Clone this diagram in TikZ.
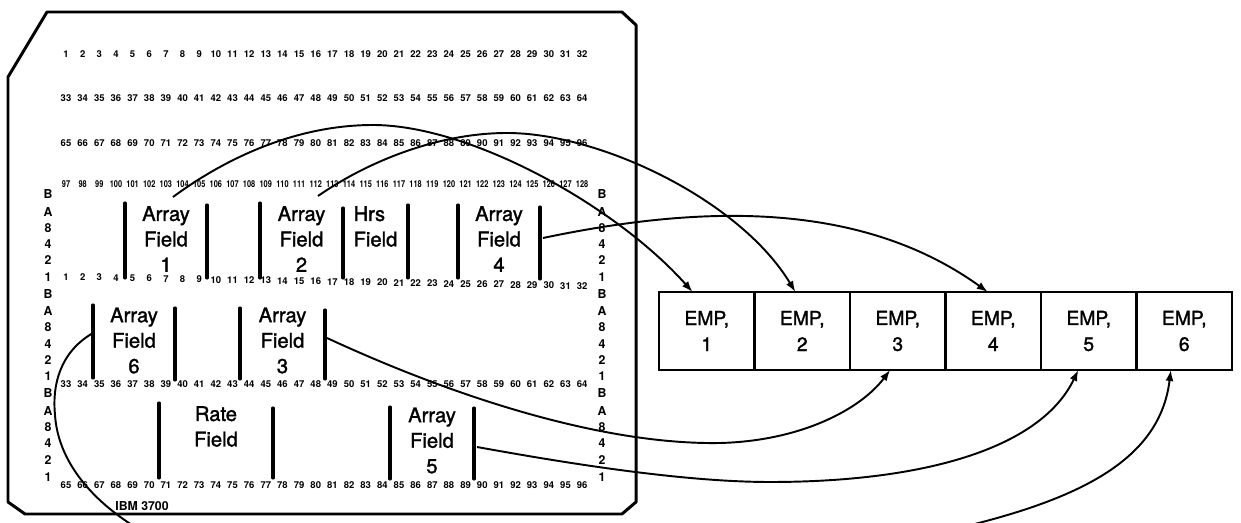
\documentclass[tikz,border=0pt]{standalone}
\usepackage{fontspec}
\setmainfont{TeX Gyre Heros}
\newfontfamily\heavy[FakeBold=1.5]{TeX Gyre Heros}
\usetikzlibrary{arrows.meta}
\begin{document}
\begin{tikzpicture}[x=0.02cm,y=-0.02cm,
  num/.style={font=\fontsize{5.4}{6}\selectfont\bfseries, inner sep=0pt},
  ltr/.style={font=\fontsize{7}{8}\selectfont\bfseries, inner sep=0pt},
  lbl/.style={font=\heavy\fontsize{11.5}{14.5}\selectfont, align=center, inner sep=0pt},
  bar/.style={line width=1.8pt, line cap=round},
  card/.style={line width=1.7pt, line join=round},
  emp/.style={draw, line width=1.3pt, minimum width=1.91cm, minimum height=1.56cm,
              inner sep=0pt, outer sep=0pt, font=\heavy\fontsize{11}{14.8}\selectfont, align=center},
  link/.style={line width=1.1pt, -{Latex[length=2.2mm,width=1.6mm]}}
]
\useasboundingbox (0,0) rectangle (1241,523);
\clip (0,0) rectangle (1241,523);

% card outline
\draw[card] (47,12) -- (622,12) -- (636,25) -- (636,502) -- (622,514)
  -- (25,514) -- (8,502) -- (8,77) -- cycle;

% column numbers
\foreach \i in {1,...,32} {
  \pgfmathsetmacro\xx{66+(\i-1)*16.65}
  \pgfmathtruncatemacro\nb{32+\i}
  \pgfmathtruncatemacro\nc{64+\i}
  \pgfmathtruncatemacro\nd{96+\i}
  \pgfmathsetmacro\yy{277+9*(\i-1)/31}
  \node[num] (ra\i) at (\xx,54) {\i};
  \node[num] (rb\i) at (\xx,98) {\nb};
  \node[num] (rc\i) at (\xx,143) {\nc};
  \node[num] (rd\i) at (\xx,184) {\scalebox{0.78}[1]{\nd}};
  \node[num] (re\i) at (\xx,\yy) {\i};
  \node[num] (rf\i) at (\xx,384) {\nb};
  \node[num] (rg\i) at (\xx,485) {\nc};
}

% zone letters
\foreach \t/\y [count=\k] in {B/194,A/212,8/228,4/244,2/260,1/277,
                              B/294,A/311,8/327,4/344,2/360,1/376,
                              B/393,A/411,8/427,4/443,2/460,1/477} {
  \node[ltr] (lL\k) at (48,\y) {\t};
  \node[ltr] (lR\k) at (602,\y) {\t};
}

% field bars
\draw[bar] (125,203) -- (125,278);
\draw[bar] (207,205) -- (207,278);
\draw[bar] (260,203) -- (260,278);
\draw[bar] (343,208) -- (343,278);
\draw[bar] (408,205) -- (408,278);
\draw[bar] (458,205) -- (458,278);
\draw[bar] (540,207) -- (540,279);
\draw[bar] (93,305) -- (93,378);
\draw[bar] (175,308) -- (175,380);
\draw[bar] (240,308) -- (240,379);
\draw[bar] (325,310) -- (325,379);
\draw[bar] (159,403) -- (159,478);
\draw[bar] (273,408) -- (273,478);
\draw[bar] (390,407) -- (390,479);
\draw[bar] (474,408) -- (474,479);

% field labels
\node[lbl] (f1) at (166,239) {Array\\Field\\1};
\node[lbl] (f2) at (301.5,239) {Array\\Field\\2};
\node[lbl, align=left] (hrs) at (375.5,226.5) {Hrs\\Field};
\node[lbl] (f4) at (499,239) {Array\\Field\\4};
\node[lbl] (f6) at (134,340.5) {Array\\Field\\6};
\node[lbl] (f3) at (282.5,340.5) {Array\\Field\\3};
\node[lbl] (rate) at (216,426.5) {Rate\\Field};
\node[lbl] (f5) at (432,440.5) {Array\\Field\\5};

\node[ltr] (ibm) at (142,506) {IBM 3700};

% EMP array
\foreach \k in {1,...,6}
  \node[emp] (e\k) at ({659+95.5*(\k-0.5)},331) {EMP,\\\k};

% connector start points
\coordinate (s1) at (173,197);
\coordinate (s2) at (318,196);
\coordinate (s4) at (543,238);
\coordinate (s3) at (327,338);
\coordinate (s5) at (477,447);
\coordinate (s6) at (93,333);

% connectors
\draw[link] (s1) .. controls (230,155) and (300,125) .. (373,125)
  .. controls (470,125) and (615,205) .. (e1.110);
\draw[link] (s2) .. controls (370,160) and (440,133) .. (507,133)
  .. controls (600,133) and (740,200) .. (e2.100);
\draw[link] (s4) .. controls (700,205) and (860,200) .. (e4.98);
\draw[link] (s3) .. controls (450,395) and (600,445) .. (720,443)
  .. controls (800,441) and (860,410) .. (e3.259);
\draw[link] (s5) .. controls (560,462) and (680,482) .. (770,482)
  .. controls (920,482) and (1040,450) .. (e5.255);
\draw[link] (s6) .. controls (60,352) and (52,385) .. (55,415)
  .. controls (58,460) and (90,500) .. (140,530)
  .. controls (300,620) and (800,600) .. (950,530)
  .. controls (1080,500) and (1160,460) .. (e6.251);
\end{tikzpicture}
\end{document}
